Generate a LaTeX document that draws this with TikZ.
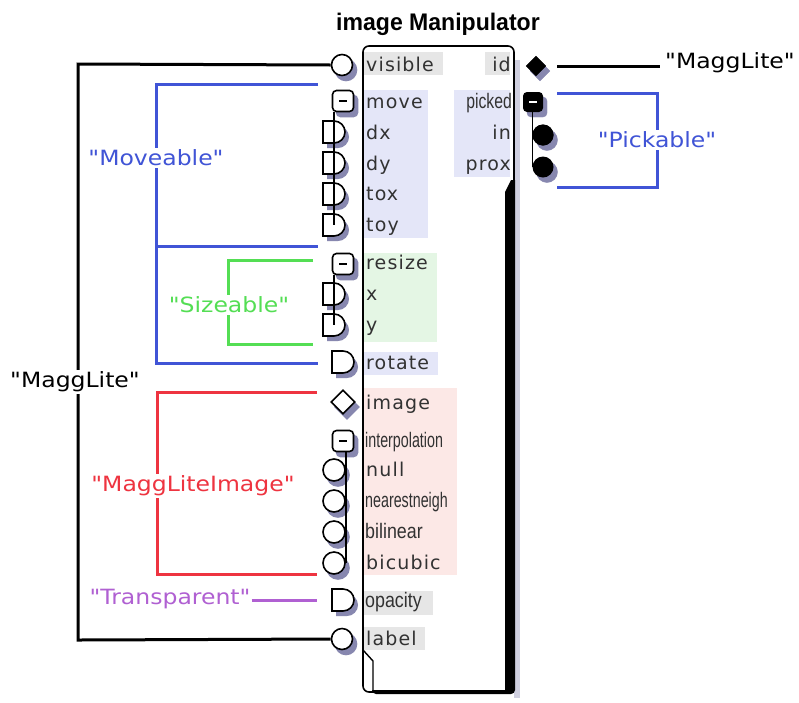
\documentclass[tikz,border=0pt]{standalone}
\usepackage{fontspec}
\setmainfont{DejaVu Sans}
\newfontfamily\grpfont{DejaVu Sans}
\newfontfamily\portfont[LetterSpace=6]{DejaVu Sans}
\newfontfamily\narrowfont{Liberation Sans}
\newfontfamily\titlefont{Liberation Sans}
\usetikzlibrary{shapes.geometric,calc}
\definecolor{shd}{RGB}{135,135,175}
\definecolor{txt}{RGB}{50,50,50}
\definecolor{bggray}{RGB}{230,230,230}
\definecolor{bgblue}{RGB}{228,230,248}
\definecolor{bggreen}{RGB}{228,246,228}
\definecolor{bgred}{RGB}{252,232,230}
\definecolor{gblue}{RGB}{64,84,214}
\definecolor{ggreen}{RGB}{84,222,84}
\definecolor{gred}{RGB}{238,52,64}
\definecolor{gpurple}{RGB}{176,96,210}
% D-shaped port: name, left x, centre y
\newcommand\dport[3]{%
  \fill[shd] (#2+4,#3-6) -- (#2+15,#3-6) arc[start angle=90,end angle=-90,radius=11pt] -- (#2+4,#3+16) -- cycle;
  \coordinate (#1) at (#2+11,#3);
  \draw[pline] (#2,#3-11) -- (#2+11,#3-11) arc[start angle=90,end angle=-90,radius=11pt] -- (#2,#3+11) -- cycle;}
% node with shadow: style, name, x, y, content
\newcommand\shnode[5]{%
  \node[#1,fill=shd,draw=shd] (#2-s) at (#3+4,#4+5) {};
  \node[#1] (#2) at (#3,#4) {#5};}
\begin{document}
\begin{tikzpicture}[x=1pt,y=-1pt,
  pline/.style={draw=black,line width=1.6pt,fill=white},
  cport/.style={circle,minimum size=21pt,inner sep=0pt,pline},
  ccport/.style={circle,minimum size=22pt,inner sep=0pt,pline},
  mport/.style={rectangle,rounded corners=4pt,minimum size=21pt,inner sep=0pt,pline},
  dmport/.style={diamond,minimum size=24pt,inner sep=0pt,pline},
  lbl/.style={anchor=base west,inner sep=0pt,text=txt,font=\portfont\fontsize{19}{19}\selectfont},
  rlbl/.style={lbl,anchor=base east},
  nlbl/.style={anchor=base west,inner sep=0pt,text=txt,font=\narrowfont\fontsize{21}{21}\selectfont},
  grp/.style={line width=3pt},
  glbl/.style={font=\grpfont\fontsize{21}{21}\selectfont,fill=white,inner sep=2pt},
]
\useasboundingbox (0,0) rectangle (799,702);
\fill[white] (0,0) rectangle (799,702);

% title
\node[anchor=base] (title) at (438,30) {\titlefont\bfseries\fontsize{24}{24}\selectfont\scalebox{0.96}[1]{image Manipulator}};

% main box
\fill[shd!40] (514,60) rectangle (520,698);
\fill[white,rounded corners=6pt] (363,46) rectangle (514,690);
\fill[bggray] (364,52) rectangle (443,75);
\fill[bggray] (485,52) rectangle (510,75);
\fill[bgblue] (364,90) rectangle (428,238);
\fill[bgblue] (454,90) rectangle (510,177);
\fill[bggreen] (364,253) rectangle (437,342);
\fill[bgblue] (364,352) rectangle (438,375);
\fill[bgred] (364,388) rectangle (457,575);
\fill[bggray] (364,591) rectangle (433,615);
\fill[bggray] (364,627) rectangle (425,650);
\fill[black] (505,192) -- (511,180) -- (515,180) -- (515,690) [rounded corners=4pt] -- (515,694) -- (372,694) [sharp corners] -- (372,690) -- (505,690) -- cycle;
\draw[line width=1.6pt,rounded corners=6pt] (363,46) rectangle (514,692);
\draw[line width=1.4pt] (363,650) -- (373,661) -- (373,692);

% labels
\node[lbl] (l-visible) at (366,71) {visible};
\node[lbl] (l-move) at (366,108) {move};
\node[lbl] (l-dx) at (366,139) {dx};
\node[lbl] (l-dy) at (366,170) {dy};
\node[lbl] (l-tox) at (366,200) {tox};
\node[lbl] (l-toy) at (366,231) {toy};
\node[lbl] (l-resize) at (366,269) {resize};
\node[lbl] (l-x) at (366,300) {x};
\node[lbl] (l-y) at (366,331) {y};
\node[lbl] (l-rotate) at (366,369) {rotate};
\node[lbl] (l-image) at (366,409) {image};
\node[nlbl] (l-interp) at (365,447) {\scalebox{0.68}[1]{interpolation}};
\node[lbl] (l-null) at (366,476) {null};
\node[nlbl] (l-nearest) at (365,507) {\scalebox{0.68}[1]{nearestneigh}};
\node[nlbl] (l-bilinear) at (365,538) {\scalebox{0.85}[1]{bilinear}};
\node[lbl] (l-bicubic) at (366,569) {bicubic};
\node[nlbl] (l-opacity) at (365,607) {\scalebox{0.85}[1]{opacity}};
\node[lbl] (l-label) at (366,645) {label};
\node[rlbl] (l-id) at (511,71) {id};
\node[nlbl,anchor=base east] (l-picked) at (512,108) {\scalebox{0.75}[1]{picked}};
\node[rlbl] (l-in) at (511,139) {in};
\node[rlbl] (l-prox) at (511,170) {prox};

% left ports
\shnode{cport}{p-visible}{342}{65}{}
\dport{p-dx}{323}{132}
\dport{p-dy}{323}{163}
\dport{p-tox}{323}{194}
\dport{p-toy}{323}{225}
\shnode{mport}{p-move}{343}{101}{\rule{8pt}{2pt}}
\draw[line width=1.6pt] (p-move.south -| p-toy) -- (p-toy);
\dport{p-x}{323}{294}
\dport{p-y}{323}{325}
\shnode{mport}{p-resize}{343}{264}{\rule{8pt}{2pt}}
\draw[line width=1.6pt] (p-resize.south -| p-y) -- (p-y);
\dport{p-rotate}{332}{362}
\shnode{dmport}{p-image}{343}{402}{}
\shnode{ccport}{p-null}{334}{470}{}
\shnode{ccport}{p-nearest}{334}{501}{}
\shnode{ccport}{p-bilinear}{334}{532}{}
\shnode{ccport}{p-bicubic}{334}{563}{}
\shnode{mport}{p-interp}{343}{441}{\rule{8pt}{2pt}}
\draw[line width=1.6pt] (p-interp.south -| p-bicubic.east) -- (p-bicubic.east);
\dport{p-opacity}{332}{600}
\shnode{cport}{p-label}{342}{639}{}

% right ports
\shnode{diamond,minimum size=20pt,inner sep=0pt,fill=black,draw=black}{p-id}{536}{66}{}
\shnode{circle,minimum size=21pt,inner sep=0pt,fill=black}{p-in}{543}{135}{}
\shnode{circle,minimum size=21pt,inner sep=0pt,fill=black}{p-prox}{543}{167}{}
\node[circle,minimum size=21pt,inner sep=0pt,fill=black] (p-in2) at (543,135) {};
\shnode{rectangle,rounded corners=4pt,minimum size=20pt,inner sep=0pt,fill=black}{p-picked}{533}{102}{\color{white}\rule{8pt}{2pt}}
\draw[line width=1.6pt] (p-picked.south -| p-prox.west) -- (p-prox.west);

% group connectors
\coordinate (ml-a) at (78,64);
\coordinate (ml-b) at (78,640);
\draw[grp] (p-visible.west) -- (ml-a) -- (ml-b) -- (p-label.west);
\node[glbl] (g-maggl) at (75,382) {\scalebox{1.12}[1]{"MaggLite"}};

\coordinate (mv-a) at (318,84);
\coordinate (mv-b) at (156,84);
\coordinate (mv-c) at (156,363);
\coordinate (mv-d) at (318,363);
\coordinate (mv-e) at (156,246);
\coordinate (mv-f) at (318,246);
\draw[grp,gblue] (mv-a) -- (mv-b) -- (mv-c) -- (mv-d);
\draw[grp,gblue] (mv-e) -- (mv-f);
\node[glbl,text=gblue] (g-move) at (156,158) {\scalebox{1.12}[1]{"Moveable"}};

\coordinate (sz-a) at (313,260);
\coordinate (sz-b) at (228,260);
\coordinate (sz-c) at (228,344);
\coordinate (sz-d) at (313,344);
\draw[grp,ggreen] (sz-a) -- (sz-b) -- (sz-c) -- (sz-d);
\node[glbl,text=ggreen] (g-size) at (229,305) {\scalebox{1.12}[1]{"Sizeable"}};

\coordinate (im-a) at (317,392);
\coordinate (im-b) at (157,392);
\coordinate (im-c) at (157,574);
\coordinate (im-d) at (317,574);
\draw[grp,gred] (im-a) -- (im-b) -- (im-c) -- (im-d);
\node[glbl,text=gred] (g-img) at (193,486) {\scalebox{1.12}[1]{"MaggLiteImage"}};

\node[glbl,text=gpurple,inner sep=1pt] (g-trans) at (170,599) {\scalebox{1.12}[1]{"Transparent"}};
\coordinate (tr-end) at (317,600);
\draw[grp,gpurple] (g-trans.east |- tr-end) -- (tr-end);

\coordinate (rm-a) at (557,66);
\coordinate (rm-b) at (660,66);
\draw[grp] (rm-a) -- (rm-b);
\node[glbl,anchor=west,inner sep=0pt] (g-rmaggl) at (665,63) {\scalebox{1.12}[1]{"MaggLite"}};

\coordinate (pk-a) at (557,93);
\coordinate (pk-b) at (657,93);
\coordinate (pk-c) at (657,187);
\coordinate (pk-d) at (557,187);
\draw[grp,gblue] (pk-a) -- (pk-b) -- (pk-c) -- (pk-d);
\node[glbl,text=gblue] (g-pick) at (657,140) {\scalebox{1.12}[1]{"Pickable"}};
\end{tikzpicture}
\end{document}
